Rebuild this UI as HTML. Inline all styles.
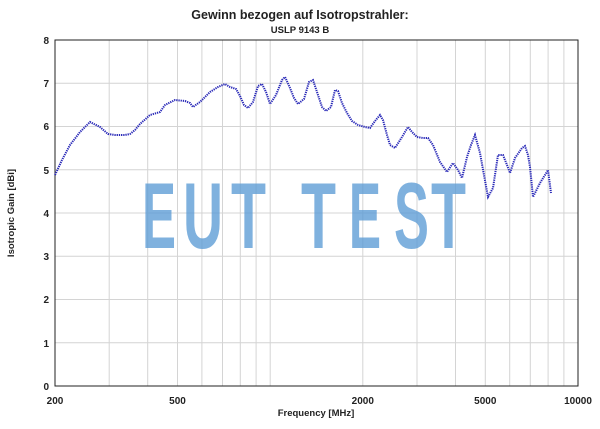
<!DOCTYPE html>
<html><head><meta charset="utf-8"><style>html,body{margin:0;padding:0;background:#fff}svg{display:block}</style></head>
<body>
<svg width="600" height="429" viewBox="0 0 600 429" xmlns="http://www.w3.org/2000/svg" font-family="Liberation Sans, sans-serif">
<rect width="600" height="429" fill="#fff"/>
<g stroke="#d4d4d4" stroke-width="1">
<line x1="55" y1="83.25" x2="578" y2="83.25"/><line x1="55" y1="126.5" x2="578" y2="126.5"/><line x1="55" y1="169.75" x2="578" y2="169.75"/><line x1="55" y1="213" x2="578" y2="213"/><line x1="55" y1="256.25" x2="578" y2="256.25"/><line x1="55" y1="299.5" x2="578" y2="299.5"/><line x1="55" y1="342.75" x2="578" y2="342.75"/>
<line x1="109.2" y1="40" x2="109.2" y2="386"/><line x1="147.7" y1="40" x2="147.7" y2="386"/><line x1="177.5" y1="40" x2="177.5" y2="386"/><line x1="201.9" y1="40" x2="201.9" y2="386"/><line x1="222.5" y1="40" x2="222.5" y2="386"/><line x1="240.3" y1="40" x2="240.3" y2="386"/><line x1="256.1" y1="40" x2="256.1" y2="386"/><line x1="270.2" y1="40" x2="270.2" y2="386"/>
<line x1="362.8" y1="40" x2="362.8" y2="386"/><line x1="417" y1="40" x2="417" y2="386"/><line x1="455.5" y1="40" x2="455.5" y2="386"/><line x1="485.3" y1="40" x2="485.3" y2="386"/><line x1="509.7" y1="40" x2="509.7" y2="386"/><line x1="530.3" y1="40" x2="530.3" y2="386"/><line x1="548.1" y1="40" x2="548.1" y2="386"/><line x1="563.9" y1="40" x2="563.9" y2="386"/>
</g>
<rect x="55" y="40" width="523" height="346" fill="none" stroke="#222" stroke-width="1"/>
<g font-size="94" font-weight="bold" fill="#5b9bd5" fill-opacity="0.78">
<text x="142" y="248" textLength="34" lengthAdjust="spacingAndGlyphs">E</text>
<text x="183" y="248" textLength="40" lengthAdjust="spacingAndGlyphs">U</text>
<text x="231" y="248" textLength="35" lengthAdjust="spacingAndGlyphs">T</text>
<text x="301" y="248" textLength="35" lengthAdjust="spacingAndGlyphs">T</text>
<text x="349" y="248" textLength="32" lengthAdjust="spacingAndGlyphs">E</text>
<text x="394" y="248" textLength="35" lengthAdjust="spacingAndGlyphs">S</text>
<text x="431" y="248" textLength="35" lengthAdjust="spacingAndGlyphs">T</text>
</g>
<polyline fill="none" stroke="#2a2ab8" stroke-width="2" stroke-dasharray="1.3 0.9" points="55,175 62,160 70,145 80,132 90,122 100,127 108,134 115,135 125,135 130,134 135,130 140,124 150,115 160,112 165,105 175,100 185,101 190,103 193,107 200,102 210,92 218,87 225,84 230,87 236,89 240,96 244,105 248,108 253,102 258,86 262,84 266,92 270,104 276,95 282,80 285,77 290,88 294,98 298,104 304,99 309,82 313,80 317,92 322,107 326,111 331,107 335,90 338,91 342,103 347,113 352,121 358,125 365,127 370,128 375,121 380,115 383,120 387,135 390,145 395,148 402,137 408,127 412,132 417,137 423,138 428,138 433,145 440,162 447,172 453,163 458,170 462,178 467,157 471,145 475,135 480,153 484,175 488,197 493,188 498,155 503,155 507,165 510,173 515,158 522,148 525,146 528,155 530,167 533,197 540,183 545,175 548,170 551,193"/>
<g font-size="10" font-weight="bold" fill="#222" text-anchor="end">
<text x="49" y="44">8</text><text x="49" y="87">7</text><text x="49" y="130">6</text><text x="49" y="174">5</text><text x="49" y="217">4</text><text x="49" y="260">3</text><text x="49" y="303">2</text><text x="49" y="347">1</text><text x="49" y="390">0</text>
</g>
<g font-size="10" font-weight="bold" fill="#222" text-anchor="middle">
<text x="55" y="404">200</text><text x="177.5" y="404">500</text><text x="362.8" y="404">2000</text><text x="485.3" y="404">5000</text><text x="578" y="404">10000</text>
<text x="316" y="416" font-size="9.5">Frequency [MHz]</text>
<text x="300" y="19" font-size="12.5">Gewinn bezogen auf Isotropstrahler:</text>
<text x="300" y="33" font-size="9.5">USLP 9143 B</text>
<text transform="translate(14,213) rotate(-90)" font-size="9.5">Isotropic Gain [dBi]</text>
</g>
</svg>
</body></html>
